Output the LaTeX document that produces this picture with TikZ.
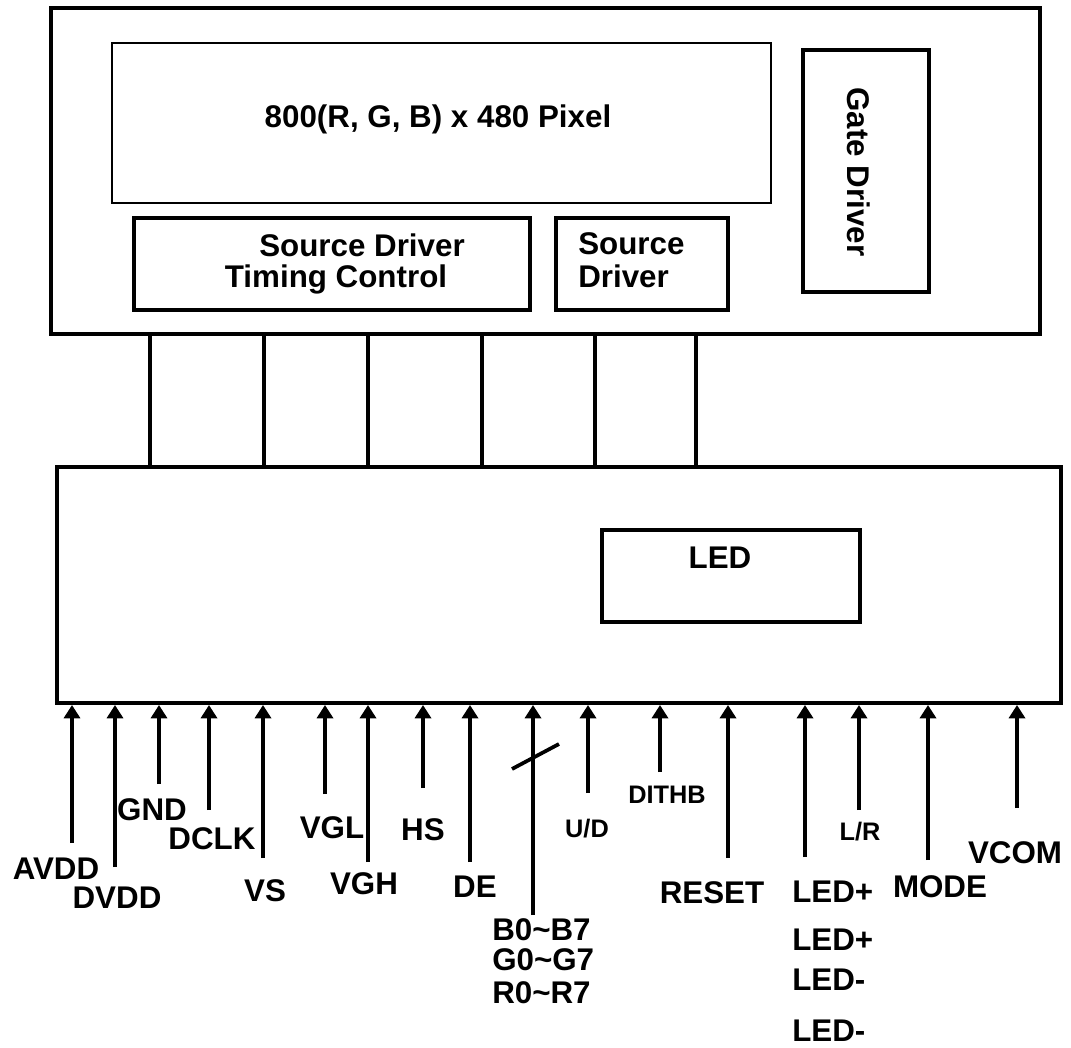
\documentclass[tikz,border=0pt]{standalone}
\usepackage{fontspec}
\setmainfont{Liberation Sans}
\usetikzlibrary{arrows.meta,fit}
\begin{document}
\begin{tikzpicture}[x=0.75pt,y=-0.75pt,
  box/.style={draw, line width=2.6pt, inner sep=0pt, rectangle},
  bigbox/.style={draw, line width=3pt, inner sep=0pt, rectangle},
  bus/.style={line width=2.4pt},
  sig/.style={line width=2.6pt, -{Triangle[width=12pt,length=10pt]}},
  big/.style={font=\fontsize{23.5}{28}\selectfont\bfseries, inner sep=0pt},
  small/.style={font=\fontsize{19}{23}\selectfont\bfseries, inner sep=0pt},
  lbl/.style={big, anchor=base},
  slbl/.style={small, anchor=base},
  llbl/.style={big, anchor=base west}]
\useasboundingbox (0,0) rectangle (1071,1048);
% boxes
\node[bigbox, fit={(51,8) (1040,334)}] (panel) {};
\node[box, line width=2.2pt, fit={(112,43) (771,203)}] (pix) {};
\node[box, fit={(134,218) (530,310)}] (sdtc) {};
\node[box, fit={(556,218) (728,310)}] (sd) {};
\node[box, fit={(803,50) (929,292)}] (gate) {};
\node[bigbox, fit={(57,467) (1061,703)}] (ctrl) {};
\node[box, line width=2.8pt, fit={(602,530) (860,622)}] (led) {};
% box texts
\node[lbl] (pixt) at (438,128) {800(R, G, B) x 480 Pixel};
\node[lbl] (sdt1) at (362,257) {Source Driver};
\node[lbl] (sdt2) at (336,288) {Timing Control};
\node[llbl] (sdb1) at (578,255) {Source};
\node[llbl] (sdb2) at (578,288) {Driver};
\node[big, rotate=-90] (gatet) at (859,172) {Gate Driver};
\node[lbl] (ledt) at (720,568) {LED};
% buses between panel and controller
\foreach \x/\n in {150/b1,264/b2,368/b3,482/b4,595/b5,696/b6}{
  \coordinate (\n) at (\x,400);
  \draw[bus] (\n |- panel.south) -- (\n |- ctrl.north);
}
% input signals
\foreach \n/\x/\y in {avdd/72/843, dvdd/115/867, gnd/159/784, dclk/209/810,
  vs/263/858, vgl/325/794, vgh/368/862, hs/423/788, de/470/862, rgb/533/915,
  ud/588/793, dithb/660/772, reset/728/858, ledp/805/857, lr/859/810,
  mode/928/860, vcom/1017/808}{
  \coordinate (\n) at (\x,\y);
  \draw[sig] (\n) -- (\n |- ctrl.south);
}
% bus slash
\draw[line width=2.8pt] (512,769) -- (559,744);
% labels
\node[lbl] (lavdd) at (56,879) {AVDD};
\node[lbl] (ldvdd) at (117,908) {DVDD};
\node[lbl] (lgnd) at (152,820) {GND};
\node[lbl] (ldclk) at (212,849) {DCLK};
\node[lbl] (lvs) at (265,901) {VS};
\node[lbl] (lvgl) at (332,838) {VGL};
\node[lbl] (lvgh) at (364,894) {VGH};
\node[lbl] (lhs) at (423,840) {HS};
\node[lbl] (lde) at (475,897) {DE};
\node[llbl] (lb) at (492,940) {B0\textasciitilde B7};
\node[llbl] (lg) at (492,970) {G0\textasciitilde G7};
\node[llbl] (lr7) at (492,1003) {R0\textasciitilde R7};
\node[slbl] (lud) at (587,837) {U/D};
\node[slbl] (ldithb) at (667,803) {DITHB};
\node[lbl] (lreset) at (712,903) {RESET};
\node[llbl] (lled1) at (792,902) {LED+};
\node[llbl] (lled2) at (792,950) {LED+};
\node[llbl] (lled3) at (792,990) {LED-};
\node[llbl] (lled4) at (792,1041) {LED-};
\node[slbl] (llr) at (860,840) {L/R};
\node[lbl] (lmode) at (940,897) {MODE};
\node[lbl] (lvcom) at (1015,863) {VCOM};
\end{tikzpicture}
\end{document}
